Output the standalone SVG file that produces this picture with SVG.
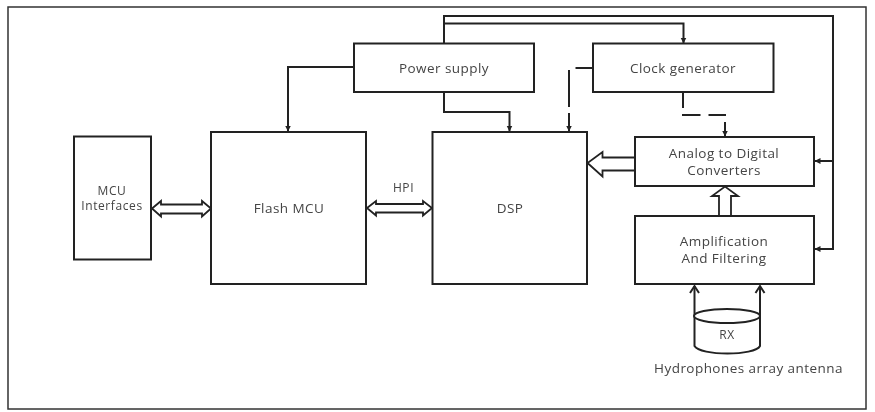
<svg xmlns="http://www.w3.org/2000/svg" width="875" height="412" viewBox="0 0 875 412">
<style>
.b{fill:#fff;stroke:#222;stroke-width:2}
.l{fill:none;stroke:#222;stroke-width:2}
.o{fill:#fff;stroke:#222;stroke-width:1.8;stroke-linejoin:miter}
.t{font-family:"Open Sans","DejaVu Sans",sans-serif;font-size:13.5px;fill:#444;text-anchor:middle;letter-spacing:.45px}
.s{font-size:12px;letter-spacing:.6px}
</style>
<defs>
<marker id="a" markerWidth="7" markerHeight="7" refX="5.500" refY="3" orient="auto" markerUnits="userSpaceOnUse"><path d="M0,0L6,3L0,6Z" fill="#222"/></marker>
<marker id="v" markerWidth="12" markerHeight="12" refX="9" refY="6" orient="auto" markerUnits="userSpaceOnUse"><path d="M2,1.500L9,6L2,10.500" fill="none" stroke="#222" stroke-width="2"/></marker>
<filter id="f" x="-2%" y="-2%" width="104%" height="104%"><feGaussianBlur stdDeviation="0.45"/></filter>
</defs>
<rect width="875" height="412" fill="#fff"/>
<g filter="url(#f)">
<rect id="frame" x="8" y="7" width="858" height="402" fill="#fff" stroke="#333" stroke-width="1.5"/>
<g id="connectors">
<path class="l" d="M444,43V16H833V249H815" marker-end="url(#a)"/>
<path class="l" d="M833,161H815" marker-end="url(#a)"/>
<path class="l" d="M444,23.500H683.500V43" marker-end="url(#a)"/>
<path class="l" d="M354,67H288V131" marker-end="url(#a)"/>
<path class="l" d="M444,92V112H509.500V131" marker-end="url(#a)"/>
<path class="l" d="M593,68H575.500"/>
<path class="l" d="M569,70V107"/>
<path class="l" d="M569,113V131" marker-end="url(#a)"/>
<path class="l" d="M683,92V108"/>
<path class="l" d="M682,115H700.500M708.500,115H726"/>
<path class="l" d="M725,122V136" marker-end="url(#a)"/>
<path class="o" d="M635,157.500H602.500V152L587.500,163L602.500,176.500V170.500H635"/>
<path class="o" d="M719,216V196H712L725,186.500L738,196H731V216"/>
<path class="o" d="M152,208.500L161,201V204.500H202V201L211,208.500L202,216.500V213.500H161V216.500Z"/>
<path class="o" d="M367,208L376,201V204H423V201L432,208L423,215.500V212.500H376V215.500Z"/>
<path class="l" d="M694.500,316V286" marker-end="url(#v)"/>
<path class="l" d="M760,316V286" marker-end="url(#v)"/>
</g>
<g id="mcu-interfaces"><rect class="b" x="74" y="136.500" width="77" height="123"/><text class="t s" x="112" y="195">MCU</text><text class="t s" x="112" y="210">Interfaces</text></g>
<g id="flash-mcu"><rect class="b" x="211" y="132" width="155" height="152"/><text class="t" x="289" y="213">Flash MCU</text></g>
<g id="hpi"><text class="t s" x="403.500" y="192">HPI</text></g>
<g id="dsp"><rect class="b" x="432.500" y="132" width="154.500" height="152"/><text class="t" x="510" y="213">DSP</text></g>
<g id="power-supply"><rect class="b" x="354" y="43.500" width="180" height="48.500"/><text class="t" x="444" y="72.500">Power supply</text></g>
<g id="clock-generator"><rect class="b" x="593" y="43.500" width="180.500" height="48.500"/><text class="t" x="683" y="72.500">Clock generator</text></g>
<g id="adc"><rect class="b" x="635" y="137" width="179" height="49"/><text class="t" x="724" y="158">Analog to Digital</text><text class="t" x="724" y="175">Converters</text></g>
<g id="amplification"><rect class="b" x="635" y="216" width="179" height="68"/><text class="t" x="724" y="246">Amplification</text><text class="t" x="724" y="263">And Filtering</text></g>
<g id="rx"><path class="b" d="M694.500,316V346C700,356 755,356 760,346V316"/><ellipse class="b" cx="727" cy="316" rx="33" ry="7"/><text class="t s" x="727" y="339">RX</text></g>
<g id="hydrophones"><text class="t" x="748.500" y="373">Hydrophones array antenna</text></g>
</g>
</svg>
